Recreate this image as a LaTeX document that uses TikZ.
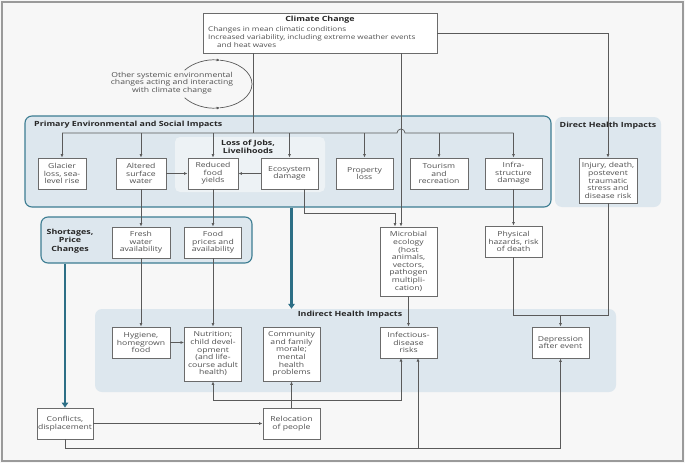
\documentclass[tikz,border=0pt]{standalone}
\usepackage{fontspec}
\setmainfont{Open Sans}[FakeStretch=1.25]
\usepackage{tikz}
\usetikzlibrary{positioning}
\usetikzlibrary{arrows.meta}
\definecolor{bgcol}{HTML}{F7F7F7}
\definecolor{framegray}{HTML}{9A9A9A}
\definecolor{panelblue}{HTML}{DDE7EE}
\definecolor{jobsblue}{HTML}{EDF2F5}
\definecolor{tealline}{HTML}{3D7D92}
\definecolor{tealarrow}{HTML}{2D6F86}
\definecolor{boxline}{HTML}{6B6B6B}
\definecolor{boxtext}{HTML}{505050}
\definecolor{linegray}{HTML}{5A5A5A}
\newcommand\boxfont{\fontsize{6.9}{7.6}\selectfont}
\newcommand\headfont{\fontsize{7.1}{8.2}\selectfont\bfseries}

\tikzset{
  box/.style={draw=boxline, fill=white, text=boxtext, font=\boxfont, align=center, inner sep=0pt, line width=0.9pt},
  panel/.style={fill=panelblue, rounded corners=7pt, inner sep=0pt},
  tealpanel/.style={panel, draw=tealline, line width=1.1pt},
  head/.style={font=\headfont, text=black!85, inner sep=0pt, align=center},
  link/.style={draw=linegray, line width=0.7pt},
  arr/.style={link, -{Latex[length=3.5pt,width=3pt]}},
  thickarr/.style={draw=tealarrow, line width=2.4pt, -{Triangle[length=5pt,width=6.5pt]}},
}

\begin{document}
\begin{tikzpicture}[x=1pt,y=-1pt]
\useasboundingbox (0,0) rectangle (685,463);
\fill[bgcol] (0,0) rectangle (685,463);
\draw[framegray, line width=1.2pt] (2,2) rectangle (683,461);

%panels
\node[tealpanel, minimum width=526pt, minimum height=91pt] (primary) at (288,161.5) {};
\node[panel, fill=jobsblue, rounded corners=5pt, minimum width=150pt, minimum height=55pt] (jobs) at (250,164.5) {};
\node[panel, minimum width=106pt, minimum height=90pt] (direct) at (608,162) {};
\node[tealpanel, minimum width=211pt, minimum height=46pt] (shortages) at (146.5,240) {};
\node[panel, minimum width=521pt, minimum height=83pt] (indirect) at (355.5,350.5) {};

\node[head, anchor=west] (primtitle) at (34,125) {Primary Environmental and Social Impacts};
\node[head] (jobstitle) at (248,147) {Loss of Jobs,\\Livelihoods};
\node[head] (directtitle) at (608,126) {Direct Health Impacts};
\node[head] (shorttitle) at (70,241) {Shortages,\\Price\\Changes};
\node[head] (indtitle) at (350,315) {Indirect Health Impacts};

%climate change
\node[box, minimum width=234pt, minimum height=40pt] (climate) at (320,33) {};
\node[head] (climtitle) at (320,20) {Climate Change};
\node[font=\fontsize{6.5}{8}\selectfont, text=boxtext, align=left, inner sep=0pt, anchor=north west] (climtext) at (208,26)
  {Changes in mean climatic conditions\\Increased variability, including extreme weather events\\\hspace*{9pt}and heat waves};

\node[font=\boxfont, text=boxtext, align=center, inner sep=0pt] (others) at (172,83)
  {Other systemic environmental\\changes acting and interacting\\with climate change};
\coordinate (cyc) at (215,84);
\draw[arr] ([shift={(215:37 and 24)}]cyc) arc[start angle=215, end angle=278, x radius=37, y radius=24];
\draw[link] ([shift={(278:37 and 24)}]cyc) arc[start angle=278, end angle=360, x radius=37, y radius=24];
\draw[arr] ([shift={(145:37 and 24)}]cyc) arc[start angle=145, end angle=82, x radius=37, y radius=24];
\draw[link] ([shift={(82:37 and 24)}]cyc) arc[start angle=82, end angle=0, x radius=37, y radius=24];

%primary impacts
\node[box, minimum width=48pt, minimum height=31pt] (glacier) at (62,173.5) {Glacier\\loss, sea-\\level rise};
\node[box, minimum width=50pt, minimum height=31pt] (altered) at (141,173.5) {Altered\\surface\\water};
\node[box, minimum width=50pt, minimum height=31pt] (reduced) at (213,173.5) {Reduced\\food\\yields};
\node[box, minimum width=57pt, minimum height=31pt] (ecosystem) at (289.5,173.5) {Ecosystem\\damage};
\node[box, minimum width=57pt, minimum height=31pt] (property) at (364.5,173.5) {Property\\loss};
\node[box, minimum width=58pt, minimum height=31pt] (tourism) at (439,173.5) {Tourism\\and\\recreation};
\node[box, minimum width=57pt, minimum height=31pt] (infra) at (513.5,173.5) {Infra-\\structure\\damage};
\node[box, minimum width=58pt, minimum height=45pt] (injury) at (608,180.5) {Injury, death,\\postevent\\traumatic\\stress and\\disease risk};

%second row
\node[box, minimum width=58pt, minimum height=31pt] (fresh) at (141,242.5) {Fresh\\water\\availability};
\node[box, minimum width=57pt, minimum height=31pt] (foodprice) at (213,242.5) {Food\\prices and\\availability};
\node[box, minimum width=57pt, minimum height=69pt] (microbial) at (408.5,261.5) {Microbial\\ecology\\(host\\animals,\\vectors,\\pathogen\\multipli-\\cation)};
\node[box, minimum width=57pt, minimum height=31pt] (physical) at (513.5,241.5) {Physical\\hazards, risk\\of death};

%indirect
\node[box, minimum width=58pt, minimum height=31pt] (hygiene) at (141,342.5) {Hygiene,\\homegrown\\food};
\node[box, minimum width=57pt, minimum height=54pt] (nutrition) at (213,354) {Nutrition;\\child devel-\\opment\\(and life-\\course adult\\health)};
\node[box, minimum width=57pt, minimum height=54pt] (community) at (291.5,354) {Community\\and family\\morale;\\mental\\health\\problems};
\node[box, minimum width=57pt, minimum height=31pt] (infectious) at (408.5,342.5) {Infectious-\\disease\\risks};
\node[box, minimum width=57pt, minimum height=31pt] (depression) at (560.5,342.5) {Depression\\after event};

\node[box, minimum width=56pt, minimum height=31pt] (conflicts) at (65,423.5) {Conflicts,\\displacement};
\node[box, minimum width=57pt, minimum height=31pt] (relocation) at (291.5,423.5) {Relocation\\of people};

%connectors
\coordinate (hub) at (253,133);
\coordinate (cv) at (401,53);
\coordinate (jumpL) at (397,133);
\coordinate (jumpR) at (405,133);
\draw[link] (climate.south -| hub) -- (hub);
\draw[link] (glacier.north |- hub) -- (jumpL) arc[start angle=180, end angle=360, radius=4] -- (infra.north |- hub);
\foreach \n in {glacier,altered,reduced,ecosystem,property,tourism,infra}{%
\draw[arr] (\n.north |- hub) -- (\n.north);
}
\draw[arr] (cv) -- (cv |- microbial.north);
\draw[arr] (climate.east) -| (injury.north);

\draw[arr] (altered) -- (reduced);
\draw[arr] (ecosystem) -- (reduced);
\coordinate (ecoout) at (304,189);
\coordinate (ecoturn) at (395,213);
\draw[arr] (ecoout) |- (ecoturn) -- (ecoturn |- microbial.north);

\draw[arr] (altered) -- (fresh);
\draw[arr] (reduced) -- (foodprice);
\draw[arr] (infra) -- (physical);
\draw[arr] (fresh) -- (hygiene);
\draw[arr] (foodprice) -- (nutrition);
\draw[arr] (microbial) -- (infectious);
\draw[arr] (hygiene.east) -- (hygiene.east -| nutrition.west);

\coordinate (dep) at (560.5,315);
\draw[link] (physical.south) |- (injury.south |- dep) -- (injury.south);
\draw[arr] (dep) -- (depression.north);

\draw[thickarr] (shortages.south -| conflicts.north) -- (conflicts.north);
\draw[thickarr] (primary.south -| community.north) -- (indirect.north -| community.north);

\draw[arr] (conflicts) -- (relocation);
\draw[arr] (relocation) -- (community);
\coordinate (relo) at (291.5,400);
\coordinate (infA) at (401,358);
\coordinate (infB) at (418,358);
\draw[arr] (relo) -| (nutrition.south);
\draw[arr] (relo) -| (infA);
\coordinate (low) at (560.5,448);
\draw[arr] (conflicts.south) |- (low) -- (depression.south);
\draw[arr] (infB |- low) -- (infB);

\end{tikzpicture}
\end{document}
